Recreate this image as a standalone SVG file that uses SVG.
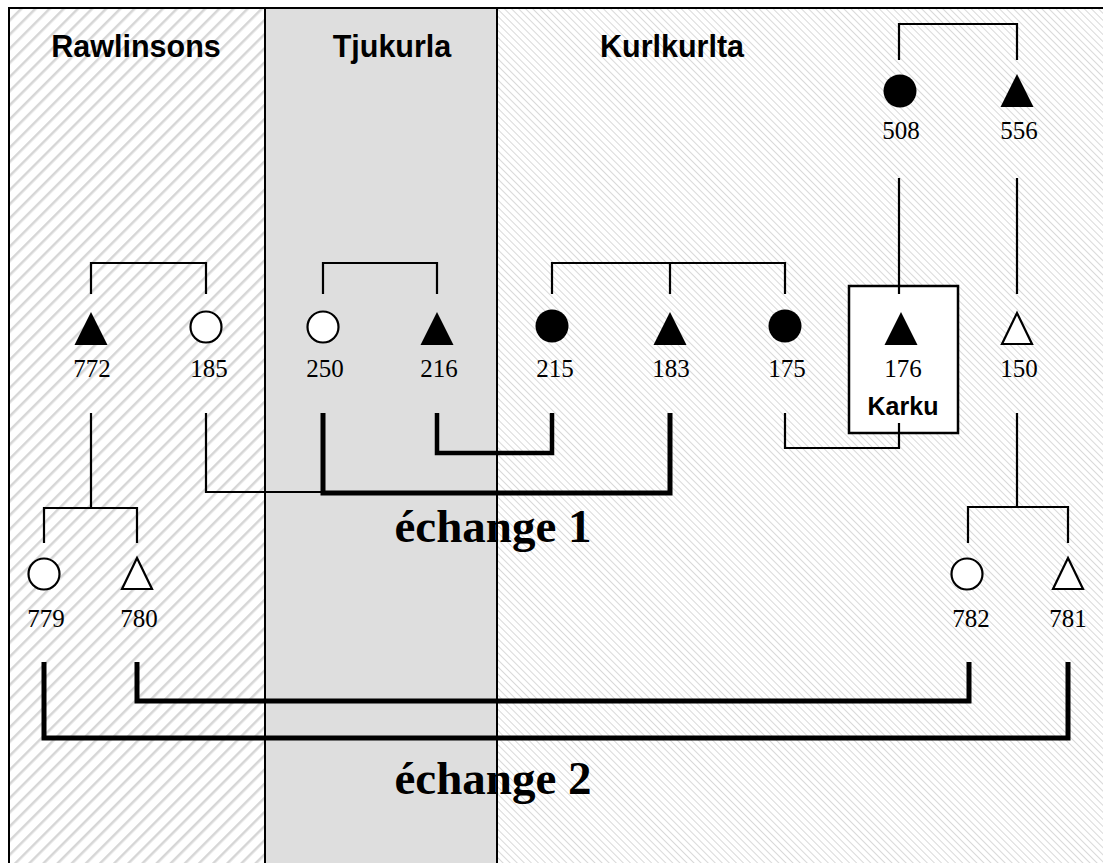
<svg xmlns="http://www.w3.org/2000/svg" width="1103" height="863" viewBox="0 0 1103 863">
<defs>
<pattern id="hatchL" patternUnits="userSpaceOnUse" width="10" height="10" patternTransform="rotate(45)">
<rect width="10" height="10" fill="#ffffff"/>
<line x1="0" y1="0" x2="0" y2="10" stroke="#d6d6d6" stroke-width="5"/>
</pattern>
<pattern id="hatchR" patternUnits="userSpaceOnUse" width="5" height="5" patternTransform="rotate(-45)">
<rect width="5" height="5" fill="#ffffff"/>
<line x1="0" y1="0" x2="0" y2="5" stroke="#d9d9d9" stroke-width="2"/>
</pattern>
<polygon id="tri" points="0,-16.5 16.5,16.5 -16.5,16.5"/>
</defs>
<style>
.frame{stroke:#000;stroke-width:2;fill:none}
.thin{stroke:#000;stroke-width:2.2;fill:none}
.thick{stroke:#000;stroke-width:5;fill:none}
.mid{stroke:#000;stroke-width:4.5;fill:none}
.fill{fill:#000}
.open{fill:#fff;stroke:#000;stroke-width:2.2}
.num{font-family:"Liberation Serif","Times New Roman",serif;font-size:25px;text-anchor:middle;fill:#000}
.title{font-family:"Liberation Sans",Arial,sans-serif;font-weight:bold;font-size:30.5px;text-anchor:middle;fill:#000}
.karku{font-family:"Liberation Sans",Arial,sans-serif;font-weight:bold;font-size:25px;text-anchor:middle;fill:#000}
.ex{font-family:"Liberation Serif","Times New Roman",serif;font-weight:bold;font-size:47px;text-anchor:middle;fill:#000}
</style>
<rect width="1103" height="863" fill="#fff"/>
<g id="regions">
<rect x="9" y="8" width="256" height="855" fill="url(#hatchL)"/>
<rect x="265" y="8" width="232" height="855" fill="#dedede"/>
<rect x="497" y="8" width="606" height="855" fill="url(#hatchR)"/>
<path class="frame" d="M9,863 V8 H1103"/>
<line class="frame" x1="265" y1="8" x2="265" y2="863"/>
<line class="frame" x1="497" y1="8" x2="497" y2="863"/>
<text class="title" x="136" y="57">Rawlinsons</text>
<text class="title" x="392" y="57">Tjukurla</text>
<text class="title" x="672" y="57">Kurlkurlta</text>
</g>
<g id="karku-box">
<rect x="849" y="286" width="109" height="147" fill="#fff" stroke="#000" stroke-width="2.5"/>
<text class="karku" x="903" y="415">Karku</text>
</g>
<g id="connectors">
<path class="thin" d="M899,60 V24 H1017 V60"/>
<line class="thin" x1="899" y1="178" x2="899" y2="294"/>
<line class="thin" x1="1017" y1="178" x2="1017" y2="294"/>
<path class="thin" d="M91,294 V263 H206 V294"/>
<path class="thin" d="M323,294 V263 H437 V294"/>
<path class="thin" d="M552,294 V263 H785 V294 M670,263 V294"/>
<path class="thin" d="M91,413 V508 M44,543 V508 H137 V543"/>
<path class="thin" d="M1017,413 V507 M968,543 V507 H1068 V543"/>
<path class="thin" d="M206,413 V492 H323"/>
<path class="thick" d="M323,413 V493 H670 V413"/>
<path class="mid" d="M437,413 V453 H552 V413"/>
<path class="thin" d="M785,413 V448 H899 V423"/>
<path class="thick" d="M44,662 V738 H1068 V662"/>
<path class="thick" d="M137,662 V701 H969 V662"/>
</g>
<g id="n508"><circle class="fill" cx="900" cy="91" r="16.5"/><text class="num" x="901" y="139">508</text></g>
<g id="n556"><use href="#tri" class="fill" x="1017" y="90.5"/><text class="num" x="1019" y="139">556</text></g>
<g id="n772"><use href="#tri" class="fill" x="91" y="328.5"/><text class="num" x="92" y="377">772</text></g>
<g id="n185"><circle class="open" cx="206" cy="327" r="15.5"/><text class="num" x="209" y="377">185</text></g>
<g id="n250"><circle class="open" cx="323" cy="327" r="15.5"/><text class="num" x="325" y="377">250</text></g>
<g id="n216"><use href="#tri" class="fill" x="437" y="328.5"/><text class="num" x="439" y="377">216</text></g>
<g id="n215"><circle class="fill" cx="552" cy="326" r="16.5"/><text class="num" x="555" y="377">215</text></g>
<g id="n183"><use href="#tri" class="fill" x="670" y="328.5"/><text class="num" x="671" y="377">183</text></g>
<g id="n175"><circle class="fill" cx="785" cy="326" r="16.5"/><text class="num" x="787" y="377">175</text></g>
<g id="n176"><use href="#tri" class="fill" x="901" y="328.5"/><text class="num" x="903" y="377">176</text></g>
<g id="n150"><polygon class="open" points="1017,313 1032,344 1002,344"/><text class="num" x="1019" y="377">150</text></g>
<g id="n779"><circle class="open" cx="44" cy="574" r="15.5"/><text class="num" x="46" y="627">779</text></g>
<g id="n780"><polygon class="open" points="137,558 152,589 122,589"/><text class="num" x="139" y="627">780</text></g>
<g id="n782"><circle class="open" cx="967" cy="574" r="15.5"/><text class="num" x="971" y="627">782</text></g>
<g id="n781"><polygon class="open" points="1068,558 1083,589 1053,589"/><text class="num" x="1068" y="627">781</text></g>
<g id="labels">
<text class="ex" x="493" y="542">échange 1</text>
<text class="ex" x="493" y="794">échange 2</text>
</g>
</svg>
